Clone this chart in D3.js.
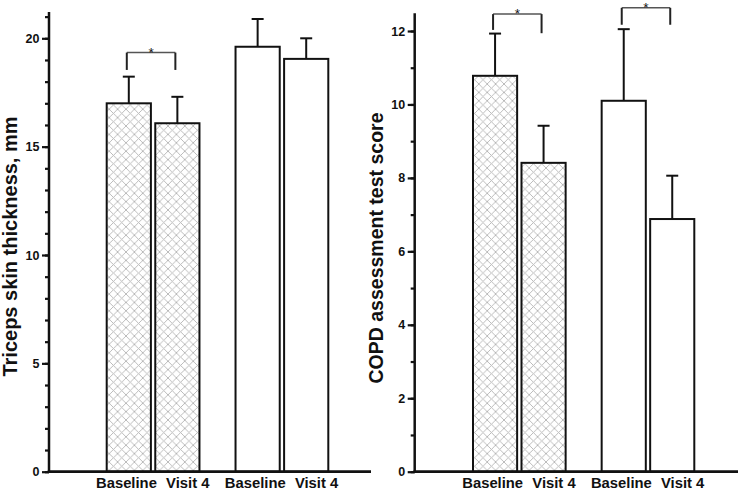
<!DOCTYPE html>
<html>
<head>
<meta charset="utf-8">
<script src="https://cdn.jsdelivr.net/npm/d3@7"></script>
<style>
  html, body { margin: 0; padding: 0; background: #fff; }
  svg { display: block; }
  text { font-family: "Liberation Sans", Arial, sans-serif; }
</style>
</head>
<body>
<svg id="chart" width="738" height="490"></svg>
<script>
// ---------- data ----------
const categories = ["Baseline", "Visit 4"];
const groups = ["Group 1", "Group 2"];           // group 1 hatched, group 2 open
const tricepsMean = [17.0, 16.08, 19.61, 19.05];
const tricepsErr  = [1.23, 1.22, 1.28, 0.95];
const catMean     = [10.78, 8.41, 10.10, 6.88];
const catErr      = [1.15, 1.01, 1.95, 1.18];
const tricepsMajorTicks = [0, 5, 10, 15, 20];
const tricepsMinorTicks = d3.range(0, 22, 1);
const catMajorTicks = [0, 2, 4, 6, 8, 10, 12];
const catMinorTicks = d3.range(0, 13, 1);
// significance brackets: group index, bracket level (value units), leg bottoms (value units)
const tricepsSig = [{ group: 0, level: 19.34, leg: 18.54 }];
const catSig = [
  { group: 0, level: 12.46, leg: 12.03, legR: 11.94 },
  { group: 1, level: 12.63, leg: 12.17, legR: 12.17 }
];

const svg = d3.select("#chart");
const defs = svg.append("defs");
const pat = defs.append("pattern")
  .attr("id", "hatch").attr("patternUnits", "userSpaceOnUse")
  .attr("width", 8.4).attr("height", 8.4);
pat.append("rect").attr("width", 8.4).attr("height", 8.4).attr("fill", "#fff");
pat.append("path").attr("d", "M0,0L8.4,8.4M8.4,0L0,8.4M-1,7.4L1,9.4M7.4,-1L9.4,1M-1,1L1,-1M7.4,9.4L9.4,7.4")
  .attr("stroke", "#b4b4b4").attr("stroke-width", 0.9).attr("fill", "none");

function panel(opts) {
  const { axisX, baseY, topPx, domainMax, scaleTopVal, scaleTopPx, means, errs,
          majors, minors, title, titleX, titleSize, sig, bandStart, bandEnd } = opts;
  const g = svg.append("g");
  const y = d3.scaleLinear().domain([0, scaleTopVal]).range([baseY, scaleTopPx]);

  const xg = d3.scaleBand().domain(groups).range([bandStart, bandEnd]).paddingInner(0.28).paddingOuter(0);
  const xi = d3.scaleBand().domain(categories).range([0, xg.bandwidth()]).paddingInner(0.09).paddingOuter(0);

  const bars = [];
  groups.forEach((grp, gi) => categories.forEach((c, ci) => {
    const k = gi * 2 + ci;
    bars.push({ gi, ci, grp, c, v: means[k], e: errs[k] });
  }));

  // bars
  g.selectAll("rect.bar").data(bars).enter().append("rect")
    .attr("class", "bar")
    .attr("x", d => xg(d.grp) + xi(d.c))
    .attr("width", xi.bandwidth())
    .attr("y", d => y(d.v))
    .attr("height", d => baseY - y(d.v))
    .attr("fill", d => d.gi === 0 ? "url(#hatch)" : "#fff")
    .attr("stroke", "#111").attr("stroke-width", 2);

  // error bars
  const cx = d => xg(d.grp) + xi(d.c) + xi.bandwidth() / 2;
  g.selectAll("line.err").data(bars).enter().append("line")
    .attr("x1", cx).attr("x2", cx)
    .attr("y1", d => y(d.v)).attr("y2", d => y(d.v + d.e))
    .attr("stroke", "#111").attr("stroke-width", 2);
  g.selectAll("line.cap").data(bars).enter().append("line")
    .attr("x1", d => cx(d) - 6).attr("x2", d => cx(d) + 6)
    .attr("y1", d => y(d.v + d.e)).attr("y2", d => y(d.v + d.e))
    .attr("stroke", "#111").attr("stroke-width", 2);

  // significance brackets
  sig.forEach(s => {
    const grp = groups[s.group];
    const xl = xg(grp) + xi(categories[0]) + xi.bandwidth() / 2 - 2;
    const xr = xg(grp) + xi(categories[1]) + xi.bandwidth() / 2 - 2;
    g.append("line").attr("x1", xl).attr("x2", xr).attr("y1", y(s.level)).attr("y2", y(s.level))
      .attr("stroke", "#555").attr("stroke-width", 1.5);
    g.append("line").attr("x1", xl).attr("x2", xl).attr("y1", y(s.level)).attr("y2", y(s.leg))
      .attr("stroke", "#222").attr("stroke-width", 2);
    g.append("line").attr("x1", xr).attr("x2", xr).attr("y1", y(s.level)).attr("y2", y(s.legR !== undefined ? s.legR : s.leg))
      .attr("stroke", "#222").attr("stroke-width", 2);
    g.append("text").attr("x", (xl + xr) / 2).attr("y", y(s.level) + 4)
      .attr("text-anchor", "middle").attr("font-size", 13.5).attr("fill", "#111").text("*");
  });

  // y axis ticks
  const ay = g.append("g").attr("transform", `translate(${axisX},0)`);
  ay.append("g").call(d3.axisLeft(y).tickValues(minors.filter(v => v <= domainMax)).tickSize(4).tickFormat(""))
    .call(a => a.select(".domain").remove())
    .call(a => a.selectAll("line").attr("stroke", "#111").attr("stroke-width", 2.2));
  ay.append("g").call(d3.axisLeft(y).tickValues(majors).tickSize(7).tickPadding(2.5).tickFormat(d3.format("d")))
    .call(a => a.select(".domain").remove())
    .call(a => a.selectAll("line").attr("stroke", "#111").attr("stroke-width", 2.2))
    .call(a => a.selectAll("text").attr("font-size", 12.5).attr("font-weight", "bold").attr("fill", "#111")
      .attr("font-family", "Liberation Sans, Arial, sans-serif"));
  ay.append("line").attr("x1", 0).attr("x2", 0).attr("y1", topPx).attr("y2", baseY + 1.25)
    .attr("stroke", "#111").attr("stroke-width", 2.5);

  // x axis line
  g.append("line").attr("x1", axisX - 1.25).attr("x2", opts.xAxisEnd).attr("y1", baseY).attr("y2", baseY)
    .attr("stroke", "#111").attr("stroke-width", 2.8);

  // category labels
  groups.forEach(grp => {
    const c = xg(grp) + xg.bandwidth() / 2;
    g.append("text").attr("x", c + 3.8).attr("y", 487.5).attr("text-anchor", "end")
      .attr("font-size", 14.8).attr("font-weight", "bold").attr("fill", "#111").text(categories[0]);
    g.append("text").attr("x", c + 13).attr("y", 487.5).attr("text-anchor", "start")
      .attr("font-size", 14.8).attr("font-weight", "bold").attr("fill", "#111").text(categories[1]);
  });

  // title
  g.append("text").attr("transform", `translate(${titleX},${opts.titleY}) rotate(-90)`)
    .attr("text-anchor", "middle").attr("font-size", titleSize).attr("font-weight", "bold")
    .attr("fill", "#111").text(title);
}

panel({
  axisX: 49, baseY: 471.7, topPx: 12, domainMax: 21, scaleTopVal: 20, scaleTopPx: 38.3,
  means: tricepsMean, errs: tricepsErr, majors: tricepsMajorTicks, minors: tricepsMinorTicks,
  title: "Triceps skin thickness, mm", titleX: 17, titleY: 246.5, titleSize: 20,
  sig: tricepsSig, bandStart: 106.7, bandEnd: 328.3, xAxisEnd: 371
});
panel({
  axisX: 414.7, baseY: 471.7, topPx: 13.3, domainMax: 12, scaleTopVal: 12, scaleTopPx: 31,
  means: catMean, errs: catErr, majors: catMajorTicks, minors: catMinorTicks,
  title: "COPD assessment test score", titleX: 383, titleY: 248, titleSize: 19.5,
  sig: catSig, bandStart: 473, bandEnd: 694.3, xAxisEnd: 738
});
</script>
</body>
</html>
